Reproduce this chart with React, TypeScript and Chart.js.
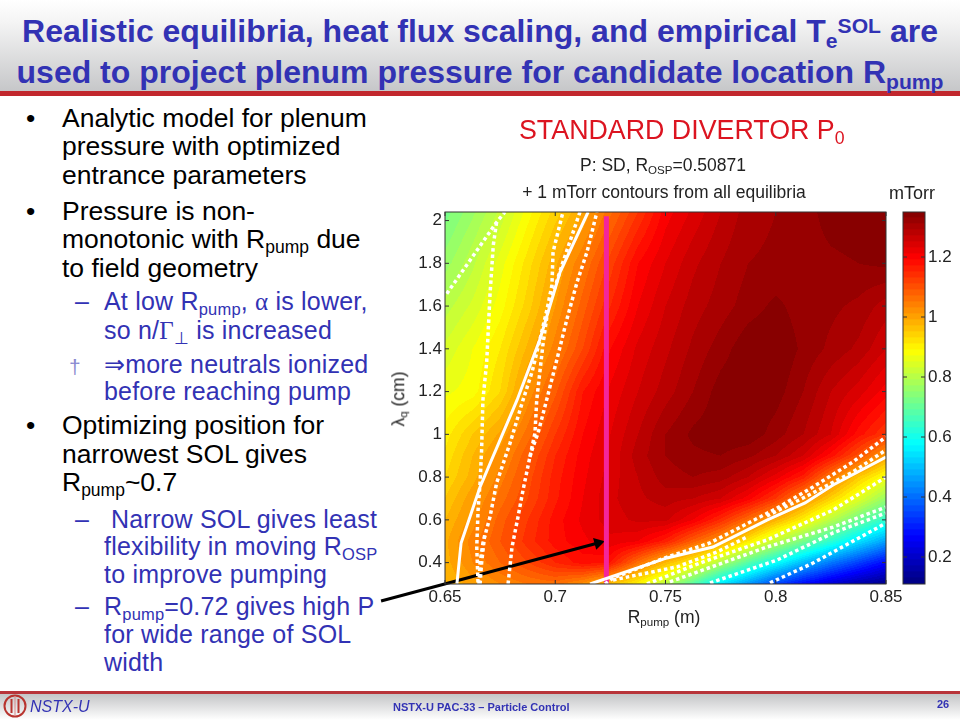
import React, { useEffect, useRef } from "react";
import { Chart, registerables } from "chart.js";

Chart.register(...registerables);

const SANS = '"Liberation Sans", Arial, sans-serif';
const SERIF = '"Liberation Serif", serif';

// ---------- data ----------
const rPump = [0.65, 0.6625, 0.675, 0.6875, 0.7, 0.7125, 0.725, 0.7375, 0.75, 0.7625, 0.775, 0.7875, 0.8, 0.8125, 0.825, 0.8375, 0.85];
const lambdaQ = [0.3, 0.4, 0.5, 0.6, 0.7, 0.8, 0.9, 1.0, 1.2, 1.4, 1.6, 1.8, 2.04];

const p030 = [0.97, 1.0, 1.03, 1.05, 1.06, 1.02, 0.96, 0.895, 0.8, 0.68, 0.55, 0.45, 0.345, 0.27, 0.21, 0.16, 0.12];
const p040 = [0.98, 1.03, 1.07, 1.11, 1.15, 1.18, 1.17, 1.06, 0.97, 0.9, 0.79, 0.68, 0.585, 0.49, 0.41, 0.34, 0.27];
const p050 = [0.985, 1.04, 1.09, 1.14, 1.18, 1.205, 1.225, 1.21, 1.16, 1.08, 1.01, 0.91, 0.81, 0.72, 0.63, 0.54, 0.46];
const p060 = [0.97, 1.02, 1.08, 1.13, 1.18, 1.215, 1.24, 1.255, 1.255, 1.21, 1.145, 1.065, 0.98, 0.9, 0.8, 0.71, 0.63];
const p070 = [0.95, 1.005, 1.06, 1.11, 1.165, 1.21, 1.245, 1.265, 1.28, 1.27, 1.25, 1.2, 1.13, 1.03, 0.94, 0.85, 0.76];
const p080 = [0.93, 0.98, 1.04, 1.1, 1.16, 1.205, 1.24, 1.27, 1.3, 1.31, 1.3, 1.27, 1.22, 1.16, 1.05, 0.95, 0.87];
const p090 = [0.915, 0.97, 1.02, 1.085, 1.15, 1.2, 1.235, 1.28, 1.31, 1.325, 1.33, 1.315, 1.29, 1.25, 1.18, 1.1, 1.0];
const p100 = [0.9, 0.95, 0.995, 1.06, 1.13, 1.19, 1.23, 1.27, 1.31, 1.335, 1.345, 1.345, 1.32, 1.29, 1.25, 1.18, 1.13];
const p120 = [0.865, 0.88, 0.93, 1.015, 1.085, 1.17, 1.215, 1.25, 1.28, 1.31, 1.34, 1.35, 1.34, 1.31, 1.27, 1.24, 1.2];
const p140 = [0.835, 0.87, 0.91, 0.975, 1.04, 1.11, 1.19, 1.235, 1.265, 1.295, 1.32, 1.345, 1.35, 1.325, 1.305, 1.285, 1.25];
const p160 = [0.8, 0.835, 0.88, 0.94, 1.01, 1.08, 1.15, 1.21, 1.25, 1.28, 1.3, 1.32, 1.335, 1.32, 1.315, 1.305, 1.28];
const p180 = [0.76, 0.805, 0.86, 0.92, 0.985, 1.05, 1.12, 1.19, 1.23, 1.265, 1.29, 1.31, 1.315, 1.32, 1.325, 1.33, 1.335];
const p204 = [0.72, 0.765, 0.815, 0.88, 0.94, 0.99, 1.065, 1.13, 1.2, 1.235, 1.27, 1.3, 1.31, 1.32, 1.34, 1.345, 1.345];
const pressure = [p030, p040, p050, p060, p070, p080, p090, p100, p120, p140, p160, p180, p204];

const xTicks = [0.65, 0.7, 0.75, 0.8, 0.85];
const yTicks = [0.4, 0.6, 0.8, 1, 1.2, 1.4, 1.6, 1.8, 2];
const cbTicks = [0.2, 0.4, 0.6, 0.8, 1, 1.2];
const cbLevels = [0.11, 0.13, 0.15, 0.17, 0.19, 0.21, 0.23, 0.25, 0.27, 0.29, 0.31, 0.33, 0.35, 0.37, 0.39, 0.41, 0.43, 0.45, 0.47, 0.49, 0.51, 0.53, 0.55, 0.57, 0.59, 0.61, 0.63, 0.65, 0.67, 0.69, 0.71, 0.73, 0.75, 0.77, 0.79, 0.81, 0.83, 0.85, 0.87, 0.89, 0.91, 0.93, 0.95, 0.97, 0.99, 1.01, 1.03, 1.05, 1.07, 1.09, 1.11, 1.13, 1.15, 1.17, 1.19, 1.21, 1.23, 1.25, 1.27, 1.29, 1.31, 1.33];

const solidLeft = [[0.6554, 0.3], [0.6573, 0.492], [0.6659, 0.754], [0.6827, 1.161], [0.6931, 1.446], [0.7022, 1.759], [0.7149, 2.04]];
const solidRight = [[0.7158, 0.3], [0.7239, 0.328], [0.7507, 0.422], [0.7715, 0.473], [0.796, 0.599], [0.8133, 0.679], [0.826, 0.763], [0.85, 0.894]];
const dotA = [[0.6508, 1.658], [0.6734, 1.992], [0.6772, 2.04]];
const dotB = [[0.6734, 1.992], [0.6719, 1.885], [0.6704, 1.652], [0.6689, 1.338], [0.6672, 1.161], [0.6666, 0.927], [0.6659, 0.772], [0.665, 0.646], [0.6644, 0.473], [0.665, 0.3]];
const dotC = [[0.6654, 0.3], [0.6659, 0.398], [0.6672, 0.492], [0.6704, 0.613], [0.6734, 0.772], [0.6795, 0.959], [0.6854, 1.161], [0.6895, 1.292], [0.6931, 1.446], [0.6963, 1.586], [0.6985, 1.698], [0.699, 1.853], [0.7035, 2.04]];
const dotD = [[0.6786, 0.3], [0.6804, 0.473], [0.6831, 0.613], [0.6854, 0.74], [0.6885, 0.894], [0.6908, 1.006], [0.6916, 1.161], [0.6944, 1.418], [0.6967, 1.586], [0.7035, 1.806], [0.7112, 2.04]];
const dotE = [[0.6885, 0.894], [0.6899, 0.941], [0.6922, 1.006], [0.6961, 1.161], [0.7008, 1.352], [0.7053, 1.539], [0.7099, 1.712], [0.7144, 1.853], [0.7189, 2.04]];
const dotF = [[0.6659, 0.3], [0.6666, 0.398], [0.6681, 0.539]];
const dotG = [[0.7226, 0.3], [0.7262, 0.328], [0.7507, 0.426], [0.7702, 0.492], [0.8006, 0.655], [0.8169, 0.754], [0.835, 0.871], [0.85, 0.988]];
const dotH = [[0.796, 0.618], [0.8133, 0.707], [0.835, 0.824], [0.85, 0.927]];
const dotI = [[0.7262, 0.319], [0.7552, 0.38], [0.7734, 0.45], [0.787, 0.52]];
const dotJ = [[0.7416, 0.3], [0.7656, 0.398], [0.796, 0.506], [0.826, 0.646], [0.85, 0.8]];
const dotK = [[0.752, 0.31], [0.796, 0.473], [0.826, 0.566], [0.85, 0.66]];
const dotL = [[0.7702, 0.305], [0.8006, 0.412], [0.826, 0.539], [0.85, 0.632]];
const dotM = [[0.7974, 0.305], [0.8169, 0.398], [0.85, 0.585]];
const dottedLines = [dotA, dotB, dotC, dotD, dotE, dotF, dotG, dotH, dotI, dotJ, dotK, dotL, dotM];

const markerLine = [[0.7232, 0.3], [0.7232, 2.02]];
const arrowLine = [[0.621, 0.2205], [0.7194, 0.492]];

// ---------- colour ----------
const C_MIN = 0.11;
const C_MAX = 1.35;
function jet(v: number): [number, number, number] {
  const t = Math.min(1, Math.max(0, (v - C_MIN) / (C_MAX - C_MIN)));
  const ch = (c: number) => Math.round(255 * Math.min(1, Math.max(0, 1.5 - Math.abs(4 * t - c))));
  return [ch(3), ch(2), ch(1)];
}
const css = (v: number) => {
  const [r, g, b] = jet(v);
  return `rgb(${r},${g},${b})`;
};
function findCell(arr: number[], v: number) {
  let i = 0;
  while (i < arr.length - 2 && v > arr[i + 1]) i++;
  return i;
}
function shade(x: number, y: number) {
  const i = findCell(rPump, x);
  const j = findCell(lambdaQ, y);
  const tx = Math.min(1, Math.max(0, (x - rPump[i]) / (rPump[i + 1] - rPump[i])));
  const ty = Math.min(1, Math.max(0, (y - lambdaQ[j]) / (lambdaQ[j + 1] - lambdaQ[j])));
  const a = pressure[j][i] * (1 - tx) + pressure[j][i + 1] * tx;
  const b = pressure[j + 1][i] * (1 - tx) + pressure[j + 1][i + 1] * tx;
  return a * (1 - ty) + b * ty;
}

const heatPlugin = {
  id: "heat",
  beforeDatasetsDraw(chart: any) {
    const { ctx, chartArea: a, scales } = chart;
    const w = Math.round(a.right - a.left);
    const h = Math.round(a.bottom - a.top);
    const off = document.createElement("canvas");
    off.width = w;
    off.height = h;
    const oc = off.getContext("2d")!;
    const img = oc.createImageData(w, h);
    for (let py = 0; py < h; py++) {
      const ly = scales.y.getValueForPixel(a.top + py + 0.5);
      for (let px = 0; px < w; px++) {
        const rx = scales.x.getValueForPixel(a.left + px + 0.5);
        const v = Math.floor((shade(rx, ly) - C_MIN) / 0.02) * 0.02 + C_MIN + 0.01;
        const [r, g, b] = jet(v);
        const k = (py * w + px) * 4;
        img.data[k] = r;
        img.data[k + 1] = g;
        img.data[k + 2] = b;
        img.data[k + 3] = 255;
      }
    }
    oc.putImageData(img, 0, 0);
    ctx.drawImage(off, a.left, a.top);
  },
};

const boxPlugin = {
  id: "box",
  afterDatasetsDraw(chart: any) {
    const { ctx, chartArea: a, scales } = chart;
    ctx.save();
    ctx.strokeStyle = "#333";
    ctx.lineWidth = 1;
    ctx.strokeRect(a.left, a.top, a.right - a.left, a.bottom - a.top);
    ctx.beginPath();
    if (scales.x && scales.x.options.display) {
      scales.x.ticks.forEach((t: any) => {
        const p = scales.x.getPixelForValue(t.value);
        ctx.moveTo(p, a.bottom);
        ctx.lineTo(p, a.bottom - 4);
        ctx.moveTo(p, a.top);
        ctx.lineTo(p, a.top + 4);
      });
    }
    scales.y.ticks.forEach((t: any) => {
      const p = scales.y.getPixelForValue(t.value);
      ctx.moveTo(a.left, p);
      ctx.lineTo(a.left + 4, p);
      ctx.moveTo(a.right, p);
      ctx.lineTo(a.right - 4, p);
    });
    ctx.stroke();
    ctx.restore();
  },
};

const toPts = (l: number[][]) => l.map(([x, y]) => ({ x, y }));
const tickLabel = (v: any) => String(+Number(v).toFixed(2));
const tickFont = { family: SANS, size: 17 };
const hiddenGrid = { display: false, drawTicks: false };

// ---------- slide text ----------
const BLUE = "#3232b4";
const BLUE_SP = 0.2;
function Sub({ children }: any) {
  return <span style={{ fontSize: "0.66em", position: "relative", top: "0.3em", lineHeight: 0 }}>{children}</span>;
}
function Sup({ children }: any) {
  return <span style={{ fontSize: "0.66em", position: "relative", top: "-0.42em", lineHeight: 0 }}>{children}</span>;
}
function T({ x, y, size, color, bold, italic, center, spacing, children, extra }: any) {
  const s: React.CSSProperties = {
    position: "absolute",
    left: x,
    top: y,
    fontFamily: SANS,
    fontSize: size,
    color: color ?? "#000",
    fontWeight: bold ? 700 : 400,
    fontStyle: italic ? "italic" : "normal",
    whiteSpace: "nowrap",
    lineHeight: 1,
    letterSpacing: spacing ?? 0,
    transform: center ? "translate(-50%,-50%)" : "translateY(-50%)",
    ...extra,
  };
  return <div style={s}>{children}</div>;
}
const B = (p: any) => <T size={25} color={BLUE} spacing={BLUE_SP} {...p} />;
const K = (p: any) => <T size={26.5} {...p} />;

export default function App() {
  const mainRef = useRef<HTMLCanvasElement>(null);
  const barRef = useRef<HTMLCanvasElement>(null);

  useEffect(() => {
    document.body.style.margin = "0";
    const main = new Chart(mainRef.current!, {
      type: "scatter",
      data: {
        datasets: [
          ...dottedLines.map((l) => ({
            data: toPts(l),
            showLine: true,
            borderColor: "#ffffff",
            borderWidth: 3.5,
            borderDash: [3.5, 3],
            pointRadius: 0,
            tension: 0,
          })),
          ...[solidLeft, solidRight].map((l) => ({
            data: toPts(l),
            showLine: true,
            borderColor: "#ffffff",
            borderWidth: 3,
            pointRadius: 0,
            tension: 0,
          })),
          {
            data: toPts(markerLine),
            showLine: true,
            borderColor: "#f4259c",
            borderWidth: 5,
            pointRadius: 0,
            tension: 0,
          },
          {
            data: toPts(arrowLine),
            showLine: true,
            borderColor: "#000000",
            backgroundColor: "#000000",
            borderWidth: 3,
            pointBorderWidth: 0,
            pointRadius: [0, 7],
            pointStyle: "triangle",
            pointRotation: 75,
            tension: 0,
            clip: false,
          },
        ] as any,
      },
      options: {
        responsive: false,
        animation: false,
        events: [],
        layout: { padding: { left: 400, right: 74, top: 212, bottom: 106 } },
        plugins: { legend: { display: false }, tooltip: { enabled: false }, title: { display: false } },
        scales: {
          x: {
            type: "linear",
            min: 0.65,
            max: 0.85,
            grid: hiddenGrid,
            border: { display: false },
            afterBuildTicks: (s: any) => { s.ticks = xTicks.map((value) => ({ value })); },
            afterFit: (s: any) => { s.height = 30; },
            ticks: { color: "#222", font: tickFont, padding: 3, maxRotation: 0, autoSkip: false, callback: tickLabel },
          },
          y: {
            type: "linear",
            min: 0.3,
            max: 2.04,
            grid: hiddenGrid,
            border: { display: false },
            afterBuildTicks: (s: any) => { s.ticks = yTicks.map((value) => ({ value })); },
            afterFit: (s: any) => { s.width = 45; },
            ticks: { color: "#222", font: tickFont, padding: 3, autoSkip: false, callback: tickLabel },
          },
        },
      } as any,
      plugins: [heatPlugin, boxPlugin],
    });
    const bar = new Chart(barRef.current!, {
      type: "bar",
      data: {
        labels: ["mTorr"],
        datasets: cbLevels.map((l) => ({
          data: [[l, l + 0.021]],
          backgroundColor: css(l + 0.01),
          borderWidth: 0,
          barPercentage: 1,
          categoryPercentage: 1,
          grouped: false,
        })) as any,
      },
      options: {
        responsive: false,
        animation: false,
        events: [],
        layout: { padding: { left: 13, right: 0, top: 212, bottom: 136 } },
        plugins: { legend: { display: false }, tooltip: { enabled: false } },
        scales: {
          x: { display: false, grid: { display: false } },
          y: {
            type: "linear",
            position: "right",
            min: C_MIN,
            max: C_MAX,
            grid: hiddenGrid,
            border: { display: false },
            afterBuildTicks: (s: any) => { s.ticks = cbTicks.map((value) => ({ value })); },
            afterFit: (s: any) => { s.width = 35; },
            ticks: { color: "#222", font: tickFont, padding: 3, autoSkip: false, callback: tickLabel },
          },
        },
      } as any,
      plugins: [boxPlugin],
    });
    return () => {
      main.destroy();
      bar.destroy();
    };
  }, []);

  return (
    <div style={{ position: "relative", width: 960, height: 720, overflow: "hidden", background: "#fff" }}>
      {/* header + footer bands */}
      <div style={{ position: "absolute", left: 0, top: 0, width: 960, height: 91, background: "linear-gradient(#ffffff 0%, #f4f4f4 25%, #c6c7c9 100%)" }} />
      <div style={{ position: "absolute", left: 0, top: 91, width: 960, height: 5, background: "#c1272d" }} />
      <div style={{ position: "absolute", left: 0, top: 691, width: 960, height: 3, background: "#b8343a" }} />
      <div style={{ position: "absolute", left: 0, top: 694, width: 960, height: 26, background: "linear-gradient(#c4c5c7 0%, #ffffff 100%)" }} />

      <T x={480} y={31} size={32} color={BLUE} bold center>
        Realistic equilibria, heat flux scaling, and empirical T<Sub>e</Sub><Sup>SOL</Sup> are
      </T>
      <T x={480} y={72} size={32} color={BLUE} bold center>
        used to project plenum pressure for candidate location R<Sub>pump</Sub>
      </T>

      {/* body bullets */}
      {[118, 211, 425].map((y) => (
        <K key={y} x={26} y={y}>•</K>
      ))}
      <K x={62} y={118}>Analytic model for plenum</K>
      <K x={62} y={146}>pressure with optimized</K>
      <K x={62} y={175}>entrance parameters</K>
      <K x={62} y={211}>Pressure is non-</K>
      <K x={62} y={239}>monotonic with R<Sub>pump</Sub> due</K>
      <K x={62} y={268}>to field geometry</K>
      <B x={75} y={301}>–</B>
      <B x={104} y={301}>At low R<Sub>pump</Sub>, <span style={{ fontFamily: SERIF }}>α</span> is lower,</B>
      <B x={104} y={330}>so n/<span style={{ fontFamily: SERIF }}>Γ<Sub>⊥</Sub></span> is increased</B>
      <T x={69} y={366} size={21} color="#8a8ad0">†</T>
      <B x={104} y={364}>⇒more neutrals ionized</B>
      <B x={104} y={391}>before reaching pump</B>
      <K x={62} y={425}>Optimizing position for</K>
      <K x={62} y={454}>narrowest SOL gives</K>
      <K x={62} y={482}>R<Sub>pump</Sub>~0.7</K>
      <B x={75} y={519}>–</B>
      <B x={111} y={519}>Narrow SOL gives least</B>
      <B x={104} y={546}>flexibility in moving R<Sub>OSP</Sub></B>
      <B x={104} y={574}>to improve pumping</B>
      <B x={75} y={606}>–</B>
      <B x={104} y={606}>R<Sub>pump</Sub>=0.72 gives high P</B>
      <B x={104} y={634}>for wide range of SOL</B>
      <B x={104} y={662}>width</B>

      {/* chart canvases */}
      <canvas ref={mainRef} width={960} height={720} style={{ position: "absolute", left: 0, top: 0, display: "block" }} />
      <canvas ref={barRef} width={70} height={720} style={{ position: "absolute", left: 890, top: 0, display: "block" }} />

      {/* chart captions */}
      <T x={519} y={130} size={26.8} color="#dc1420">STANDARD DIVERTOR P<Sub>0</Sub></T>
      <T x={663} y={166} size={17.5} color="#222" center>P: SD, R<Sub>OSP</Sub>=0.50871</T>
      <T x={664} y={193} size={17.5} color="#222" center>+ 1 mTorr contours from all equilibria</T>
      <T x={912} y={193} size={18} color="#222" center>mTorr</T>
      <T x={664} y={618} size={17.5} color="#222" center>R<Sub>pump</Sub> (m)</T>
      <T x={399} y={399} size={17.5} color="#222" center extra={{ transform: "translate(-50%,-50%) rotate(-90deg)" }}>λ<Sub>q</Sub> (cm)</T>

      {/* footer */}
      <svg width={26} height={26} style={{ position: "absolute", left: 2, top: 693 }}>
        <circle cx={13} cy={13} r={10.5} fill="none" stroke="#b8342f" strokeWidth={2} />
        <path d="M9.5 6 V20 M16.5 6 V20" stroke="#b8342f" strokeWidth={2} fill="none" />
        <path d="M13 3 V23" stroke="#d88" strokeWidth={1} fill="none" />
      </svg>
      <T x={30} y={707} size={16} color={BLUE} italic>NSTX-U</T>
      <T x={393} y={707} size={11} color={BLUE} bold>NSTX-U PAC-33 – Particle Control</T>
      <T x={937} y={704} size={11} color={BLUE} bold>26</T>
    </div>
  );
}
